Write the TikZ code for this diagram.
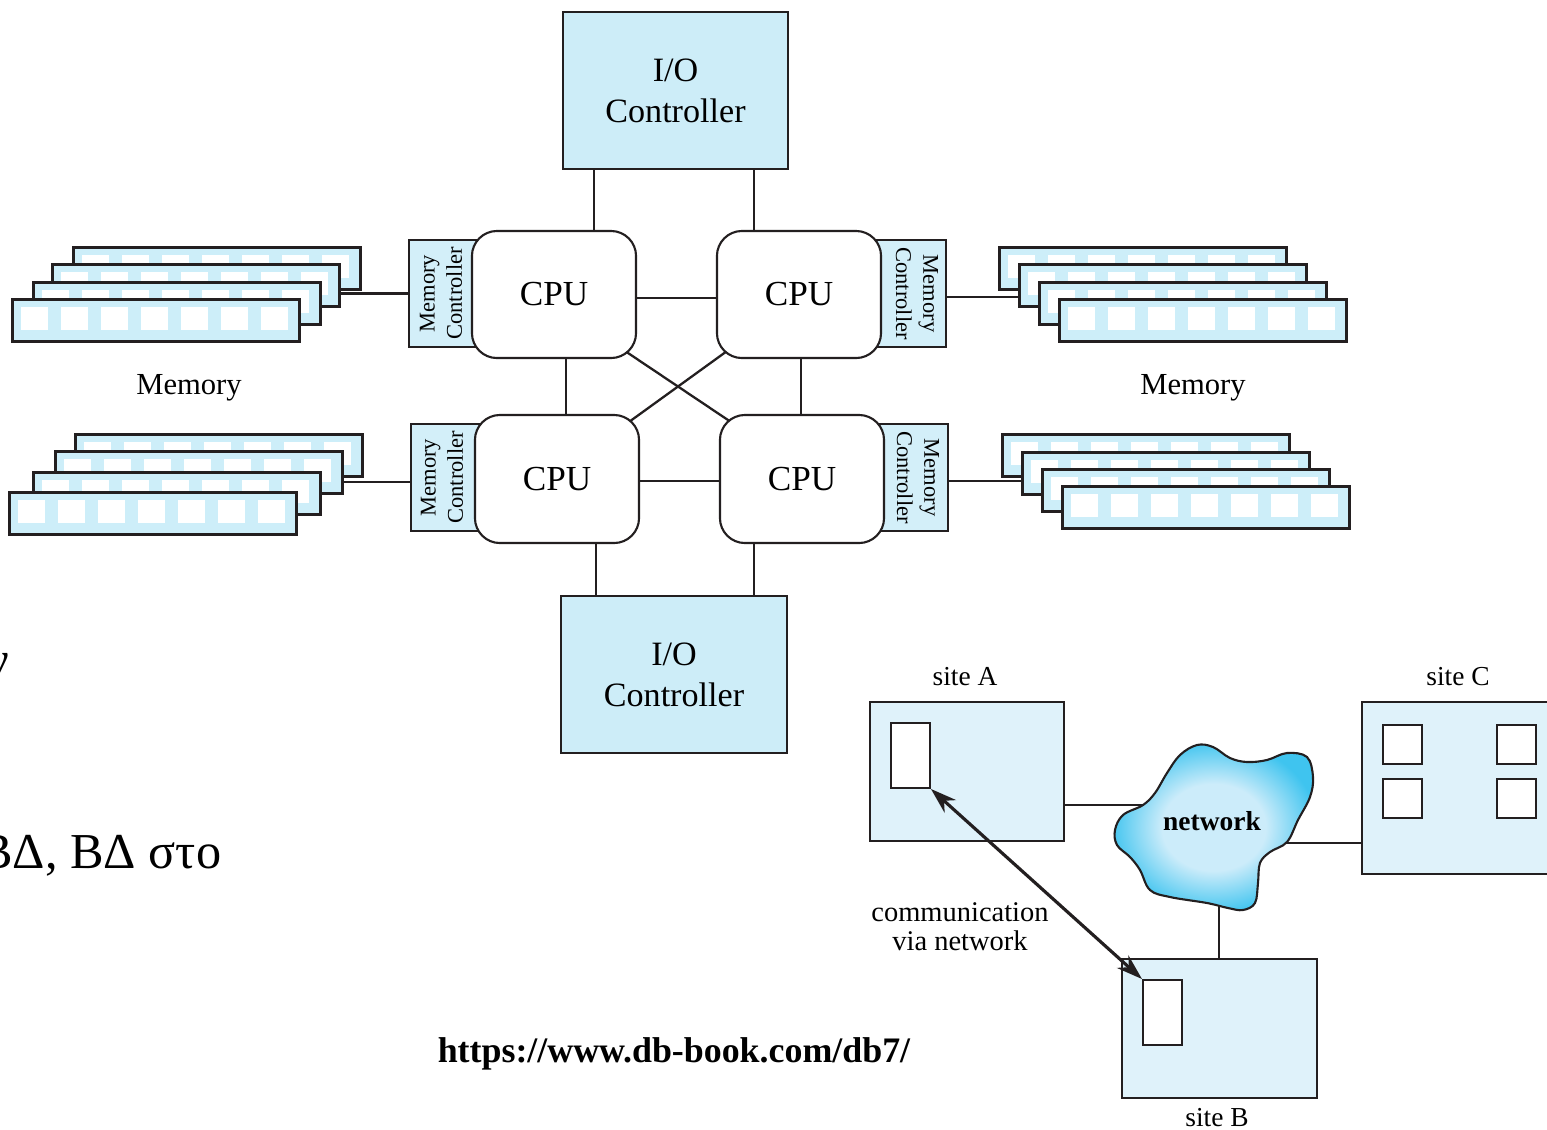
\documentclass[tikz,border=0pt]{standalone}
\usepackage{fontspec}
\setmainfont{Liberation Serif}
\usetikzlibrary{calc,arrows.meta,backgrounds}
\definecolor{ioblue}{HTML}{CDEDF8}
\definecolor{mcblue}{HTML}{D3EFF9}
\definecolor{boardblue}{HTML}{CDEEF9}
\definecolor{siteblue}{HTML}{DFF2FA}
\definecolor{ink}{HTML}{231F20}
\definecolor{cloudin}{HTML}{CCECFA}
\definecolor{cloudout}{HTML}{3FC4EF}
\pgfdeclareradialshading{cloudshade}{\pgfpoint{0bp}{0bp}}{color(0bp)=(cloudin); color(13bp)=(cloudin); color(26bp)=(cloudout); color(50bp)=(cloudout)}
\newcommand\memboard[3]{%
  \node[board] (#1) at (#2,#3) {};
  \foreach \k in {0,...,6}{\fill[white] ($(#1.north west)+(10+40*\k,9)$) rectangle ++(27,23);}
}
\begin{document}
\begin{tikzpicture}[x=0.01cm,y=-0.01cm,
  iobox/.style={draw=ink, line width=0.7pt, fill=ioblue, minimum width=2.25cm, minimum height=1.57cm, align=center, font=\fontsize{9.7}{11.7}\selectfont, inner sep=0},
  cpubox/.style={draw=ink, line width=0.6pt, fill=white, rounded corners=0.25cm, minimum width=1.64cm, minimum height=1.27cm, font=\fontsize{10}{12}\selectfont, inner sep=0},
  mcbox/.style={draw=ink, line width=0.6pt, fill=mcblue, minimum height=1.07cm, inner sep=0},
  mctext/.style={align=center, font=\fontsize{6.4}{7.7}\selectfont, inner sep=0},
  board/.style={draw=ink, line width=0.85pt, fill=boardblue, minimum width=2.87cm, minimum height=0.42cm, anchor=north west, inner sep=0},
  wire/.style={draw=ink, line width=0.65pt},
  netwire/.style={draw=ink, line width=0.5pt},
  sitebox/.style={draw=ink, line width=0.55pt, fill=siteblue, inner sep=0, anchor=north west},
  slot/.style={draw=ink, line width=0.55pt, fill=white, inner sep=0, anchor=north west},
  lbl/.style={font=\fontsize{7.8}{9}\selectfont, inner sep=0, anchor=base},
  big/.style={font=\fontsize{14.3}{18}\selectfont, inner sep=0, anchor=base east}
]
\useasboundingbox (0,0) rectangle (1547,1129);

% ---------- I/O controllers ----------
\node[iobox] (ioT) at (675.5,90.5) {I/O\\Controller};
\node[iobox, minimum width=2.26cm] (ioB) at (674,674.5) {I/O\\Controller};

% ---------- memory controllers (behind CPUs) ----------
\node[mcbox, minimum width=0.91cm] (mcTL) at (454.5,293.5) {};
\node[mcbox, minimum width=0.86cm] (mcTR) at (903,293.5) {};
\node[mcbox, minimum width=0.89cm] (mcBL) at (455.5,477.5) {};
\node[mcbox, minimum width=0.86cm] (mcBR) at (905,477.5) {};
\node[mctext, rotate=90] (mcTLt) at (441,293.5) {Memory\\Controller};
\node[mctext, rotate=-90] (mcTRt) at (917,293.5) {Memory\\Controller};
\node[mctext, rotate=90] (mcBLt) at (442,477.5) {Memory\\Controller};
\node[mctext, rotate=-90] (mcBRt) at (918,477.5) {Memory\\Controller};

% ---------- CPUs ----------
\node[cpubox] (cpuTL) at (554,294.5) {CPU};
\node[cpubox] (cpuTR) at (799,294.5) {CPU};
\node[cpubox, minimum height=1.28cm] (cpuBL) at (557,479) {CPU};
\node[cpubox, minimum height=1.28cm] (cpuBR) at (802,479) {CPU};

% ---------- memory stacks ----------
\memboard{memTL1}{72}{246}
\memboard{memTL2}{51}{263}
\memboard{memTL3}{32}{281}
\memboard{memTL4}{11}{298}
\memboard{memTR1}{998}{246}
\memboard{memTR2}{1018}{263}
\memboard{memTR3}{1038}{281}
\memboard{memTR4}{1058}{298}
\memboard{memBL1}{74}{433}
\memboard{memBL2}{54}{450}
\memboard{memBL3}{32}{471}
\memboard{memBL4}{8}{491}
\memboard{memBR1}{1001}{433}
\memboard{memBR2}{1021}{451}
\memboard{memBR3}{1041}{468}
\memboard{memBR4}{1061}{485}

\node[font=\fontsize{8.7}{10}\selectfont, inner sep=0, anchor=base] (memL) at (189,394) {Memory};
\node[font=\fontsize{8.7}{10}\selectfont, inner sep=0, anchor=base] (memR) at (1193,394) {Memory};

\draw[wire] (mcTL.west) -- (mcTL.west -| memTL2.east);
\draw[wire] ([yshift=-0.035cm]mcTR.east) -- ([yshift=-0.035cm]mcTR.east -| memTR2.west);
\draw[wire] ([yshift=-0.045cm]mcBL.west) -- ([yshift=-0.045cm]mcBL.west -| memBL2.east);
\draw[wire] ([yshift=-0.035cm]mcBR.east) -- ([yshift=-0.035cm]mcBR.east -| memBR2.west);

% ---------- CPU interconnect (behind boxes) ----------
\begin{pgfonlayer}{background}
\draw[wire] ([xshift=0.40cm]cpuTL.north) -- ([xshift=0.40cm]cpuTL.north |- ioT.south);
\draw[wire] ([xshift=-0.45cm]cpuTR.north) -- ([xshift=-0.45cm]cpuTR.north |- ioT.south);
\draw[wire] ([xshift=0.39cm]cpuBL.south) -- ([xshift=0.39cm]cpuBL.south |- ioB.north);
\draw[wire] ([xshift=-0.48cm]cpuBR.south) -- ([xshift=-0.48cm]cpuBR.south |- ioB.north);
\draw[wire] ([yshift=-0.035cm]cpuTL.east) -- ([yshift=-0.035cm]cpuTL.east -| cpuTR.west);
\draw[wire] ([yshift=-0.02cm]cpuBL.east) -- ([yshift=-0.02cm]cpuBL.east -| cpuBR.west);
\draw[wire] ([xshift=0.12cm]cpuTL.south) -- ([xshift=0.12cm]cpuTL.south |- cpuBL.north);
\draw[wire] ([xshift=0.02cm]cpuTR.south) -- ([xshift=0.02cm]cpuTR.south |- cpuBR.north);
\draw[wire, shorten <=-0.25cm, shorten >=-0.25cm] (cpuTL.south east) -- (cpuBR.north west);
\draw[wire, shorten <=-0.25cm, shorten >=-0.25cm] (cpuTR.south west) -- (cpuBL.north east);
\end{pgfonlayer}

% ---------- distributed sites ----------
\node[sitebox, minimum width=1.94cm, minimum height=1.39cm] (siteA) at (869,701) {};
\node[slot, minimum width=0.39cm, minimum height=0.65cm] (slotA) at (890,722) {};
\node[lbl] (siteAl) at (965,685) {site A};

\node[sitebox, minimum width=2.6cm, minimum height=1.72cm] (siteC) at (1361,701) {};
\node[slot, minimum width=0.39cm, minimum height=0.39cm] (slotC1) at (1382,724) {};
\node[slot, minimum width=0.39cm, minimum height=0.39cm] (slotC2) at (1496,724) {};
\node[slot, minimum width=0.39cm, minimum height=0.39cm] (slotC3) at (1382,778) {};
\node[slot, minimum width=0.39cm, minimum height=0.39cm] (slotC4) at (1496,778) {};
\node[lbl] (siteCl) at (1458,685) {site C};

\node[sitebox, minimum width=1.95cm, minimum height=1.39cm] (siteB) at (1121,958) {};
\node[slot, minimum width=0.39cm, minimum height=0.65cm] (slotB) at (1142,979) {};
\node[lbl] (siteBl) at (1217,1126) {site B};

% network cloud
\draw[draw=ink, line width=0.6pt, shading=cloudshade] plot[smooth cycle, tension=0.6] coordinates {
 (1115,830) (1123,815) (1143,805) (1155,793) (1167,773) (1180,755) (1197,745)
 (1213,747) (1230,758) (1247,762) (1267,760) (1287,753) (1307,757) (1313,777)
 (1310,797) (1298,820) (1287,842) (1270,852) (1260,863) (1258,883) (1255,903)
 (1243,910) (1228,908) (1207,903) (1170,897) (1150,890) (1140,870) (1130,857)
 (1117,845)};
\node[font=\bfseries\fontsize{7.8}{9}\selectfont, inner sep=0, anchor=base] (net) at (1212,830) {network};
\coordinate (netW) at (1145,805);
\coordinate (netE) at (1285,843);
\coordinate (netS) at (1219,905);

\begin{pgfonlayer}{background}
\draw[netwire] (netW -| siteA.east) -- (netW);
\draw[netwire] (netE) -- (netE -| siteC.west);
\draw[netwire] (netS) -- (netS |- siteB.north);
\end{pgfonlayer}

\draw[draw=ink, line width=0.9pt, {Stealth[length=2.6mm,width=1.7mm]}-{Stealth[length=2.6mm,width=1.7mm]}] (slotA.south east) -- (slotB.north west);

\node[lbl, font=\fontsize{8.1}{9.5}\selectfont] (comm1) at (960,921) {communication};
\node[lbl, font=\fontsize{8.1}{9.5}\selectfont] (comm2) at (960,950) {via network};

% ---------- slide text ----------
\node[font=\bfseries\fontsize{10.2}{12}\selectfont, inner sep=0, anchor=base] (url) at (674,1062) {https://www.db-book.com/db7/};
\node[big] (gk1) at (10,676) {ν};
\node[big] (gk2) at (222,868) {ΒΔ, ΒΔ στο};
\end{tikzpicture}
\end{document}
